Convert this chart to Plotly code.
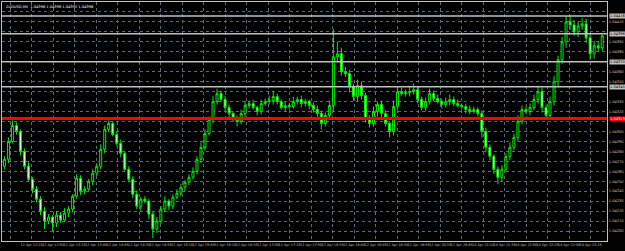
import plotly.graph_objects as go

# ---------------- data ----------------
first_open = 1.04265
closes = [
    1.04272, 1.04290, 1.04306, 1.04300, 1.04280, 1.04265, 1.04252, 1.04242, 1.04232, 1.04220,
    1.04210, 1.04214, 1.04208, 1.04216, 1.04211, 1.04218, 1.04222, 1.04235, 1.04253, 1.04240,
    1.04242, 1.04250, 1.04258, 1.04265, 1.04282, 1.04302, 1.04308, 1.04297, 1.04288, 1.04278,
    1.04262, 1.04252, 1.04237, 1.04225, 1.04232, 1.04230, 1.04217, 1.04202, 1.04210, 1.04222,
    1.04230, 1.04225, 1.04234, 1.04238, 1.04244, 1.04249, 1.04254, 1.04260, 1.04272, 1.04284,
    1.04298, 1.04312, 1.04330, 1.04338, 1.04332, 1.04324, 1.04318, 1.04313, 1.04310, 1.04318,
    1.04326, 1.04328, 1.04324, 1.04320, 1.04328, 1.04330, 1.04331, 1.04335, 1.04330, 1.04324,
    1.04326, 1.04325, 1.04330, 1.04332, 1.04328, 1.04330, 1.04326, 1.04322, 1.04318, 1.04308,
    1.04316, 1.04326, 1.04375, 1.04378, 1.04360, 1.04358, 1.04345, 1.04335, 1.04346, 1.04336,
    1.04312, 1.04308, 1.04320, 1.04327, 1.04318, 1.04308, 1.04300, 1.04325, 1.04340, 1.04338,
    1.04339, 1.04340, 1.04342, 1.04332, 1.04324, 1.04330, 1.04338, 1.04333, 1.04330, 1.04327,
    1.04330, 1.04332, 1.04328, 1.04326, 1.04325, 1.04322, 1.04320, 1.04322, 1.04318, 1.04300,
    1.04284, 1.04275, 1.04262, 1.04254, 1.04262, 1.04275, 1.04284, 1.04294, 1.04310, 1.04322,
    1.04320, 1.04324, 1.04332, 1.04340, 1.04324, 1.04316, 1.04330, 1.04350, 1.04372, 1.04390,
    1.04410, 1.04407, 1.04400, 1.04406, 1.04408, 1.04394, 1.04378, 1.04386, 1.04384, 1.04396,
]
# wick lengths in points (0.00001)
up_wick = [
    3, 4, 5, 3, 2, 3, 4, 2, 3, 3, 4, 3, 2, 4, 3, 5, 3, 2, 4, 3,
    3, 2, 4, 3, 5, 4, 3, 2, 3, 4, 2, 3, 3, 4, 2, 3, 2, 3, 4, 3,
    5, 2, 3, 4, 3, 2, 3, 4, 3, 5, 4, 3, 6, 5, 3, 4, 3, 2, 3, 4,
    5, 3, 4, 2, 4, 3, 5, 6, 3, 2, 4, 3, 5, 3, 4, 3, 2, 3, 4, 3,
    3, 5, 28, 12, 6, 5, 4, 3, 6, 4, 3, 4, 5, 3, 4, 3, 2, 6, 5, 4,
    3, 5, 6, 4, 3, 4, 5, 3, 4, 3, 4, 5, 3, 4, 2, 3, 4, 3, 2, 3,
    4, 3, 2, 3, 4, 3, 5, 4, 6, 4, 3, 4, 5, 6, 4, 3, 5, 6, 4, 5,
    6, 7, 5, 4, 6, 5, 4, 5, 4, 3,
]
dn_wick = [
    3, 4, 2, 3, 4, 3, 2, 4, 3, 4, 8, 3, 8, 4, 3, 2, 4, 3, 3, 4,
    3, 2, 4, 3, 3, 4, 3, 2, 3, 4, 2, 3, 4, 3, 5, 2, 5, 9, 4, 3,
    3, 4, 3, 2, 3, 4, 3, 2, 3, 4, 3, 2, 4, 3, 2, 3, 4, 3, 5, 3,
    4, 3, 2, 4, 3, 2, 3, 4, 3, 2, 4, 3, 2, 3, 4, 3, 4, 3, 5, 6,
    3, 4, 6, 5, 4, 3, 6, 4, 5, 4, 3, 4, 3, 5, 4, 3, 6, 4, 3, 2,
    3, 4, 3, 4, 3, 4, 3, 3, 2, 4, 3, 4, 3, 2, 3, 4, 3, 2, 3, 6,
    5, 4, 5, 7, 4, 3, 4, 3, 4, 3, 3, 4, 3, 4, 5, 4, 3, 4, 5, 4,
    6, 5, 4, 5, 4, 5, 6, 5, 4, 3,
]
hlines_silver = [1.04416, 1.04398, 1.04370, 1.04345]
hline_red = 1.04313
tick_labels = [
    "12 Apr 2013", "12 Apr 12:25", "12 Apr 12:50", "12 Apr 13:15", "12 Apr 13:40",
    "12 Apr 14:05", "12 Apr 14:30", "12 Apr 14:55", "12 Apr 15:20", "12 Apr 15:45",
    "12 Apr 16:10", "12 Apr 16:35", "12 Apr 17:00", "12 Apr 17:25", "12 Apr 17:50",
    "12 Apr 18:15", "12 Apr 18:40", "12 Apr 19:05", "12 Apr 19:30", "12 Apr 19:55",
    "12 Apr 20:20", "12 Apr 20:45", "14 Apr 21:10", "14 Apr 21:35", "14 Apr 22:00",
    "14 Apr 22:25", "14 Apr 22:50", "14 Apr 23:15",
]
title_text = "AUDUSD,M5  1.04396 1.04398 1.04392 1.04396"

# ---------------- build ----------------
n = min(len(closes), len(up_wick), len(dn_wick))
closes = closes[:n]
opens = [first_open] + closes[:-1]
highs = [max(o, c) + w * 1e-5 for o, c, w in zip(opens, closes, up_wick)]
lows = [min(o, c) - w * 1e-5 for o, c, w in zip(opens, closes, dn_wick)]
xs = list(range(n))

FS = 3.6
FSX = 3.4
fig = go.Figure()
fig.add_trace(go.Candlestick(
    x=xs, open=opens, high=highs, low=lows, close=closes,
    increasing=dict(line=dict(color="#00ee00", width=1), fillcolor="#000000"),
    decreasing=dict(line=dict(color="#00ee00", width=1), fillcolor="#d0ffd0"),
    whiskerwidth=0, showlegend=False, hoverinfo="skip",
))

all_lines = hlines_silver + [hline_red]
for v in hlines_silver:
    fig.add_shape(type="line", xref="paper", x0=0, x1=1, y0=v, y1=v,
                  line=dict(color="#c0c0c0", width=1.5), layer="above")
    fig.add_annotation(xref="paper", x=1.003, y=v, yref="y", text=f"{v:.5f}",
                       showarrow=False, xanchor="left", font=dict(size=FS, color="#000000"),
                       bgcolor="#c0c0c0", borderpad=0)
fig.add_shape(type="line", xref="paper", x0=0, x1=1, y0=hline_red, y1=hline_red,
              line=dict(color="#ff0000", width=3), layer="above")
fig.add_annotation(xref="paper", x=1.003, y=hline_red, yref="y", text=f"{hline_red:.5f}",
                   showarrow=False, xanchor="left", font=dict(size=FS, color="#ffffff"),
                   bgcolor="#ff0000", borderpad=0)

fig.add_annotation(xref="paper", yref="paper", x=0.004, y=0.995, text=title_text,
                   showarrow=False, xanchor="left", yanchor="top",
                   font=dict(size=FS, color="#ffffff"))

step = 5.36
tickvals = [1.4 + k * step for k in range(len(tick_labels))]
yticks = [round(1.04200 + k * 0.0001, 5) for k in range(23)]
ytext = ["" if any(abs(v - h) < 0.00005 for h in all_lines) else f"{v:.5f}" for v in yticks]

fig.update_layout(
    width=625, height=251,
    margin=dict(l=2, r=13, t=1, b=10),
    paper_bgcolor="#000000", plot_bgcolor="#000000",
    font=dict(family="DejaVu Sans", color="#c0c0c0"),
    xaxis=dict(
        range=[-0.6, 150.2], rangeslider=dict(visible=False),
        tickmode="array", tickvals=tickvals, ticktext=tick_labels, tickangle=0,
        tickfont=dict(size=FSX, color="#c0c0c0"), ticks="", ticklen=0,
        showgrid=True, gridcolor="#5f6b78", griddash="dot", gridwidth=1,
        showline=True, linecolor="#c0c0c0", linewidth=1, mirror=True,
        zeroline=False, fixedrange=True,
    ),
    yaxis=dict(
        range=[1.04190, 1.04430], side="right",
        tickmode="array", tickvals=yticks, ticktext=ytext,
        tickfont=dict(size=FS, color="#c0c0c0"), ticks="", ticklen=0,
        showgrid=True, gridcolor="#5f6b78", griddash="dot", gridwidth=1,
        showline=True, linecolor="#c0c0c0", linewidth=1, mirror=True,
        zeroline=False, fixedrange=True,
    ),
)

fig.write_html("out.html")
